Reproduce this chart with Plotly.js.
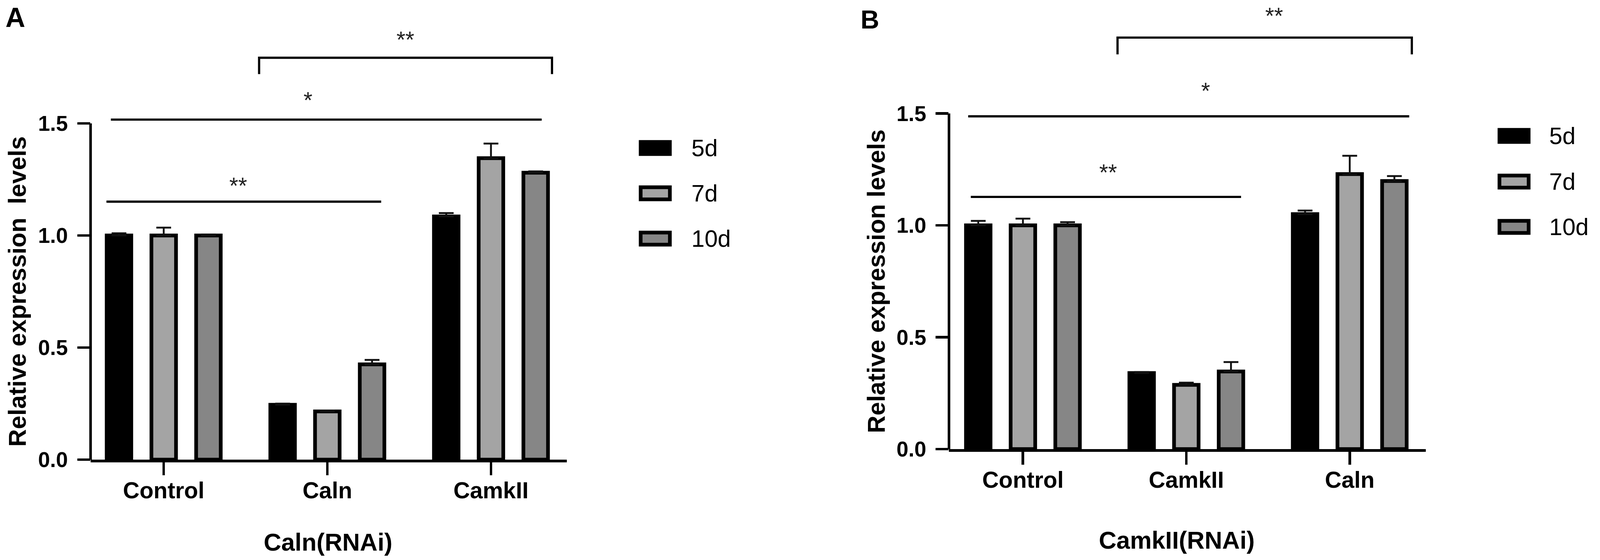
<!DOCTYPE html>
<html>
<head>
<meta charset="utf-8">
<script src="https://cdn.plot.ly/plotly-3.0.1.min.js"></script>
<style>
  html, body { margin: 0; padding: 0; background: #fff; overflow: hidden; }
  #chart { width: 100vw; height: 100vh; }
</style>
</head>
<body>
<div id="chart"></div>
<script>
// ---- data ----
const seriesNames = ["5d", "7d", "10d"]

// panel A : Caln(RNAi)
const catsA = ["Control", "Caln", "CamkII"]
const a5d = [1.0, 0.245, 1.085]
const a7d = [1.0, 0.215, 1.345]
const a10d = [1.0, 0.425, 1.28]
const a5dErr = [0.01, 0.005, 0.015]
const a7dErr = [0.035, 0.004, 0.065]
const a10dErr = [0.004, 0.02, 0.006]

// panel B : CamkII(RNAi)
const catsB = ["Control", "CamkII", "Caln"]
const b5d = [1.0, 0.34, 1.05]
const b7d = [1.0, 0.287, 1.229]
const b10d = [1.0, 0.347, 1.198]
const b5dErr = [0.02, 0.004, 0.016]
const b7dErr = [0.03, 0.01, 0.082]
const b10dErr = [0.014, 0.042, 0.022]

const yTicks = [0, 0.5, 1.0, 1.5]

// significance comparisons: [from, to, level, label, leg (bracket bottom) or null]
const sigA = [
    [0.583, 2.373, 1.793, "**", 1.72],
    [-0.323, 2.31, 1.517, "*", null],
    [-0.35, 1.329, 1.151, "**", null]
]
const sigLabelPosA = [[1.478, 1.897], [0.881, 1.627], [0.456, 1.246]]
const sigB = [
    [0.579, 2.38, 1.839, "**", 1.764],
    [-0.335, 2.364, 1.487, "*", null],
    [-0.319, 1.335, 1.127, "**", null]
]
const sigLabelPosB = [[1.538, 1.96], [1.118, 1.625], [0.523, 1.259]]

// ---- sizing: the design is laid out on a 4328 x 1434 grid and scaled to the window ----
const REF_W = 4328, REF_H = 1434
const W = document.documentElement.clientWidth || REF_W
const H = document.documentElement.clientHeight || REF_H
const k = Math.min(W / REF_W, H / REF_H)
const sz = v => v * k
const px2x = p => p / REF_W
const py2y = p => 1 - p / REF_H
const fills = ["#000000", "#a4a4a4", "#868686"]
const FONT = "Liberation Sans, Arial, sans-serif"

function barTraces(cats, vals, errs, xa, ya) {
    return vals.map((v, i) => ({
        type: "bar",
        name: seriesNames[i],
        x: cats,
        y: v,
        xaxis: xa,
        yaxis: ya,
        showlegend: false,
        marker: { color: fills[i], line: { color: "#000", width: sz(10) } },
        error_y: {
            type: "data",
            symmetric: false,
            array: errs[i],
            arrayminus: errs[i].map(() => 0),
            color: "#111",
            thickness: sz(5),
            width: sz(20)
        }
    }))
}

const data = [
    ...barTraces(catsA, [a5d, a7d, a10d], [a5dErr, a7dErr, a10dErr], "x", "y"),
    ...barTraces(catsB, [b5d, b7d, b10d], [b5dErr, b7dErr, b10dErr], "x2", "y2")
]

function xAxis(domain, range, anchor) {
    return {
        domain: domain,
        range: range,
        anchor: anchor,
        type: "category",
        showline: true,
        linewidth: sz(7),
        linecolor: "#000",
        ticks: "outside",
        ticklen: sz(35),
        tickwidth: sz(7),
        tickcolor: "#000",
        ticklabelstandoff: Math.round(sz(-12)),
        tickfont: { family: FONT, size: sz(62), color: "#000", weight: "bold" },
        showgrid: false,
        zeroline: false,
        fixedrange: true,
        automargin: false
    }
}

function yAxis(domain, anchor) {
    return {
        domain: domain,
        anchor: anchor,
        range: [0, 2.0],
        showline: false,
        ticks: "outside",
        ticklen: sz(35),
        tickwidth: sz(7),
        tickcolor: "#000",
        tickvals: yTicks,
        ticktext: yTicks.map(t => t.toFixed(1)),
        ticklabelstandoff: Math.round(sz(14)),
        tickfont: { family: FONT, size: sz(58), color: "#000", weight: "bold" },
        showgrid: false,
        zeroline: false,
        fixedrange: true,
        automargin: false
    }
}

const shapes = []
const annotations = []

// y axis lines only run up to 1.5, as in the original
;[[245, "y"], [2567, "y2"]].forEach(([px, yr]) => {
    shapes.push({
        type: "line", xref: "paper", yref: yr,
        x0: px2x(px), x1: px2x(px), y0: 0, y1: yTicks[yTicks.length - 1],
        line: { color: "#000", width: sz(7) }
    })
})

function addSig(sig, labelPos, xr, yr) {
    sig.forEach((s, i) => {
        const [x0, x1, y, label, leg] = s
        if (leg !== null) {
            shapes.push({
                type: "path", xref: xr, yref: yr,
                path: `M${x0},${leg} L${x0},${y} L${x1},${y} L${x1},${leg}`,
                line: { color: "#000", width: sz(6) }
            })
        } else {
            shapes.push({
                type: "line", xref: xr, yref: yr,
                x0: x0, x1: x1, y0: y, y1: y,
                line: { color: "#000", width: sz(6) }
            })
        }
        annotations.push({
            xref: xr, yref: yr, x: labelPos[i][0], y: labelPos[i][1],
            xanchor: "center", yanchor: "middle",
            text: label, showarrow: false, yshift: sz(-14),
            font: { family: FONT, size: sz(62), color: "#222" }
        })
    })
}
addSig(sigA, sigLabelPosA, "x", "y")
addSig(sigB, sigLabelPosB, "x2", "y2")

// legends (drawn large, like the original)
function addLegend(boxLeft, textLeft, rowsY) {
    seriesNames.forEach((name, i) => {
        const cy = rowsY[i]
        shapes.push({
            type: "rect", xref: "paper", yref: "paper",
            x0: px2x(boxLeft + 5), x1: px2x(boxLeft + 84),
            y0: py2y(cy + 15.5), y1: py2y(cy - 15.5),
            fillcolor: fills[i],
            line: { color: "#000", width: sz(10) }
        })
        annotations.push({
            xref: "paper", yref: "paper", x: px2x(textLeft), y: py2y(cy),
            xanchor: "left", yanchor: "middle",
            text: name, showarrow: false,
            font: { family: FONT, size: sz(64), color: "#000" }
        })
    })
}
addLegend(1728, 1868, [379, 495, 611])
addLegend(4051, 4189, [348, 465, 581])

// axis titles and panel letters
const titleFont = { family: FONT, size: sz(66), color: "#000", weight: "bold" }
const centered = { showarrow: false, xanchor: "center", yanchor: "middle" }
annotations.push(
    Object.assign({ xref: "paper", yref: "y", x: px2x(46), y: 0.75, textangle: -90,
      text: "Relative expression\u00a0 levels", font: titleFont }, centered),
    Object.assign({ xref: "paper", yref: "y2", x: px2x(2370), y: 0.75, textangle: -90,
      text: "Relative expression levels", font: titleFont }, centered),
    Object.assign({ xref: "paper", yref: "paper", x: px2x(888), y: py2y(1388),
      text: "Caln(RNAi)", font: titleFont }, centered),
    Object.assign({ xref: "paper", yref: "paper", x: px2x(3183), y: py2y(1383),
      text: "CamkII(RNAi)", font: titleFont }, centered),
    Object.assign({ xref: "paper", yref: "paper", x: px2x(42), y: py2y(45), text: "A",
      font: { family: FONT, size: sz(74), color: "#000", weight: "bold" } }, centered),
    Object.assign({ xref: "paper", yref: "paper", x: px2x(2353), y: py2y(50), text: "B",
      font: { family: FONT, size: sz(70), color: "#000", weight: "bold" } }, centered)
)

const layout = {
    width: W,
    height: H,
    margin: { l: 0, r: 0, t: 0, b: 0, pad: 0 },
    paper_bgcolor: "#fff",
    plot_bgcolor: "rgba(0,0,0,0)",
    font: { family: FONT, color: "#000" },
    showlegend: false,
    barmode: "group",
    bargap: 0.18,
    bargroupgap: 0.45,
    xaxis: xAxis([px2x(245), px2x(1533)], [-0.447, 2.463], "y"),
    yaxis: yAxis([py2y(1177), py2y(29)], "x"),
    xaxis2: xAxis([px2x(2567), px2x(3857)], [-0.4525, 2.466], "y2"),
    yaxis2: yAxis([py2y(1150), py2y(4)], "x2"),
    shapes: shapes,
    annotations: annotations
}

Plotly.newPlot("chart", data, layout, { staticPlot: true, displayModeBar: false })
</script>
</body>
</html>
